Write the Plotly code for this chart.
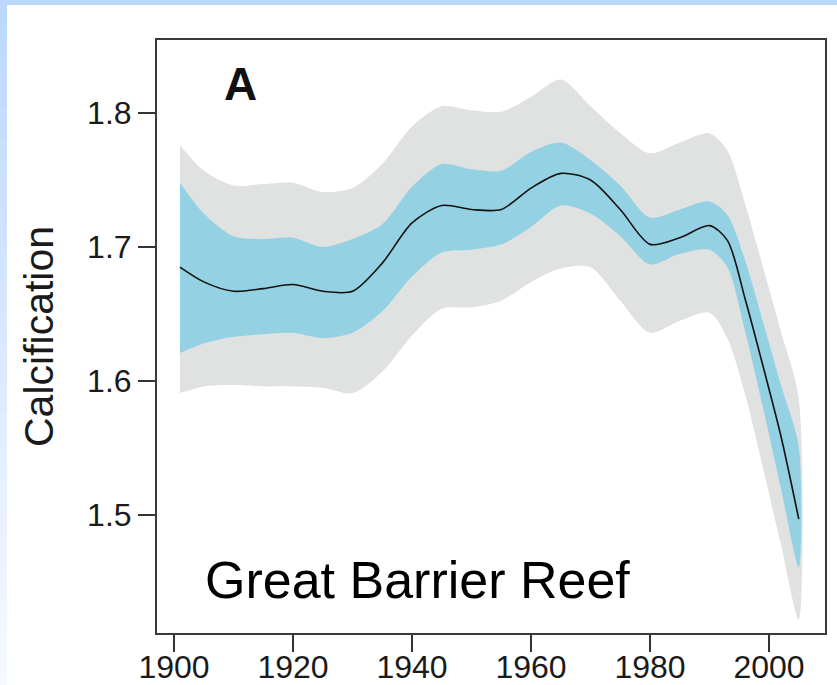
import plotly.graph_objects as go

# ---- data ----
years = [1901, 1905, 1910, 1915, 1920, 1925, 1930, 1935, 1940, 1945, 1950, 1955,
         1960, 1965, 1970, 1975, 1980, 1985, 1990, 1993, 1996, 1999, 2002, 2005]
mean_calc = [1.685, 1.674, 1.667, 1.669, 1.672, 1.667, 1.667, 1.688, 1.718, 1.731, 1.728, 1.728,
             1.744, 1.755, 1.750, 1.728, 1.702, 1.707, 1.716, 1.705, 1.661, 1.611, 1.559, 1.497]
inner_upper = [1.748, 1.725, 1.708, 1.706, 1.707, 1.700, 1.706, 1.717, 1.745, 1.762, 1.758, 1.757,
               1.771, 1.778, 1.765, 1.746, 1.722, 1.728, 1.734, 1.724, 1.690, 1.644, 1.597, 1.551]
inner_lower = [1.621, 1.628, 1.633, 1.635, 1.636, 1.632, 1.636, 1.652, 1.678, 1.696, 1.698, 1.702,
               1.715, 1.731, 1.725, 1.708, 1.687, 1.695, 1.698, 1.685, 1.637, 1.580, 1.520, 1.461]
outer_upper = [1.776, 1.757, 1.746, 1.747, 1.748, 1.741, 1.744, 1.762, 1.790, 1.805, 1.802, 1.801,
               1.812, 1.825, 1.805, 1.785, 1.770, 1.778, 1.785, 1.772, 1.732, 1.685, 1.637, 1.587]
outer_lower = [1.591, 1.596, 1.597, 1.596, 1.596, 1.595, 1.591, 1.607, 1.634, 1.654, 1.655, 1.660,
               1.674, 1.684, 1.685, 1.660, 1.636, 1.645, 1.651, 1.632, 1.590, 1.535, 1.478, 1.422]

x_ticks = [1900, 1920, 1940, 1960, 1980, 2000]
y_ticks = [1.5, 1.6, 1.7, 1.8]
y_tick_labels = ["1.5", "1.6", "1.7", "1.8"]

# ---- layout constants ----
W, H = 837, 685
ML, MR, MT, MB = 157, 12, 40, 52
PW, PH = W - ML - MR, H - MT - MB


def px_to_paper_x(px):
    return (px - ML) / PW


def px_to_paper_y(py):
    return (H - MB - py) / PH


fig = go.Figure()

fig.add_trace(go.Scatter(
    x=years + years[::-1], y=outer_upper + outer_lower[::-1],
    fill="toself", fillcolor="#E0E1E1", line=dict(width=0, shape="spline", smoothing=0.8),
    mode="lines", hoverinfo="skip", showlegend=False))
fig.add_trace(go.Scatter(
    x=years + years[::-1], y=inner_upper + inner_lower[::-1],
    fill="toself", fillcolor="#94D2E3", line=dict(width=0, shape="spline", smoothing=0.8),
    mode="lines", hoverinfo="skip", showlegend=False))
fig.add_trace(go.Scatter(
    x=years, y=mean_calc, mode="lines",
    line=dict(color="#111111", width=1.6, shape="spline", smoothing=0.8), showlegend=False))

# background decoration: top bar and left gradient strip
shapes = []
shapes.append(dict(type="rect", xref="paper", yref="paper", layer="below",
                   x0=px_to_paper_x(0), x1=px_to_paper_x(W), y0=px_to_paper_y(5), y1=px_to_paper_y(0),
                   fillcolor="#BCD8FE", line=dict(width=0)))
n = 40
c0 = (0xBC, 0xD8, 0xFE)
c1 = (0xF6, 0xF9, 0xFF)
for i in range(n):
    t = i / (n - 1)
    col = "rgb(%d,%d,%d)" % tuple(round(a + (b - a) * t) for a, b in zip(c0, c1))
    ya = 5 + (H - 5) * i / n
    yb = 5 + (H - 5) * (i + 1) / n
    shapes.append(dict(type="rect", xref="paper", yref="paper", layer="below",
                       x0=px_to_paper_x(0), x1=px_to_paper_x(7),
                       y0=px_to_paper_y(yb + 0.5), y1=px_to_paper_y(ya),
                       fillcolor=col, line=dict(width=0)))

fig.update_layout(
    width=W, height=H,
    margin=dict(l=ML, r=MR, t=MT, b=MB, pad=0, autoexpand=False),
    paper_bgcolor="white", plot_bgcolor="white",
    font=dict(family="Liberation Sans, Arial, sans-serif", color="#1a1a1a"),
    shapes=shapes,
    xaxis=dict(range=[1897.14, 2009.41], tickvals=x_ticks, ticks="outside", ticklen=17,
               tickwidth=1.5, tickcolor="#333333", showline=True, linecolor="#3a3a3a",
               linewidth=2, mirror=True, showgrid=False, zeroline=False, automargin=False,
               ticklabelstandoff=-12,
               tickfont=dict(size=32, color="#1a1a1a")),
    yaxis=dict(range=[1.412, 1.8545], tickvals=y_ticks, ticktext=y_tick_labels,
               ticks="outside", ticklen=17, tickwidth=1.5, tickcolor="#333333",
               showline=True, linecolor="#3a3a3a", linewidth=2, mirror=True, automargin=False,
               showgrid=False, zeroline=False, tickfont=dict(size=32, color="#1a1a1a")),
    annotations=[
        dict(text="Calcification", textangle=-90, xref="paper", yref="paper",
             x=px_to_paper_x(39), y=px_to_paper_y(337), xanchor="center", yanchor="middle",
             showarrow=False, font=dict(size=41, color="#1a1a1a")),
        dict(text="<b>A</b>", xref="paper", yref="paper",
             x=px_to_paper_x(240), y=px_to_paper_y(84), xanchor="center", yanchor="middle",
             showarrow=False, font=dict(size=46, color="#111111")),
        dict(text="Great Barrier Reef", xref="paper", yref="paper",
             x=px_to_paper_x(417), y=px_to_paper_y(580), xanchor="center", yanchor="middle",
             showarrow=False, font=dict(size=52, color="#000000")),
    ],
)

fig.write_html("out.html")
